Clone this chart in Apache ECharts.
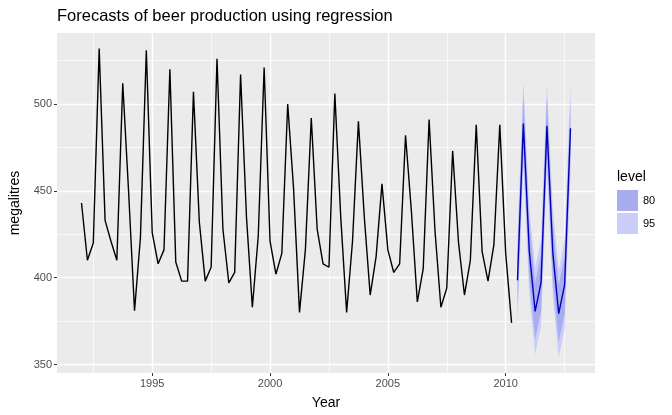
<!DOCTYPE html>
<html>
<head>
<meta charset="utf-8">
<script src="https://cdn.jsdelivr.net/npm/echarts@6/dist/echarts.min.js"></script>
<style>
  html, body { margin: 0; padding: 0; background: #fff; }
  #chart { width: 672px; height: 415px; }
</style>
</head>
<body>
<div id="chart"></div>
<script>
// quarterly beer production, 1992 Q1 .. 2010 Q2
const startYear = 1992;
const beer = [
  443, 410, 420, 532, 433, 421, 410, 512, 449, 381, 423, 531,
  426, 408, 416, 520, 409, 398, 398, 507, 432, 398, 406, 526,
  428, 397, 403, 517, 435, 383, 424, 521, 421, 402, 414, 500,
  451, 380, 416, 492, 428, 408, 406, 506, 435, 380, 421, 490,
  435, 390, 412, 454, 416, 403, 408, 482, 438, 386, 405, 491,
  427, 383, 394, 473, 420, 390, 410, 488, 415, 398, 419, 488,
  414, 374
];
// forecasts 2010 Q3 .. 2012 Q4
const fcStart = 2010.5;
const fcPoint = [398.5, 488.8, 415.6, 380.6, 397.1, 487.4, 414.3, 379.3, 395.8, 486.0];
const lo80 = [382.4, 472.7, 399.4, 364.4, 380.8, 471.0, 397.9, 362.8, 379.2, 469.4];
const hi80 = [414.6, 504.9, 431.8, 396.8, 413.4, 503.8, 430.7, 395.8, 412.4, 502.6];
const lo95 = [373.7, 464.0, 390.7, 355.6, 372.0, 462.2, 389.0, 353.9, 370.3, 460.4];
const hi95 = [423.3, 513.6, 440.5, 405.6, 422.2, 512.6, 439.6, 404.7, 421.3, 511.6];

const xTicks = [1995, 2000, 2005, 2010];
const xMinor = [1992.5, 1997.5, 2002.5, 2007.5, 2012.5];
const yTicks = [350, 400, 450, 500];
const yMinor = [375, 425, 475, 525];

const col80 = '#a9adef';
const col95 = '#cacef8';

const beerData = beer.map((v, i) => [startYear + i / 4, v]);
const fcX = fcPoint.map((v, i) => fcStart + i / 4);
const fcData = fcPoint.map((v, i) => [fcX[i], v]);

// one polygon per band, drawn from the band arrays through the axes
function bandSeries(name, lo, hi, color, z) {
  return {
    type: 'custom', name: name, z: z, silent: true,
    itemStyle: { color: color },
    data: lo.map((v, i) => [fcX[i], v, hi[i]]),
    encode: { x: 0, y: [1, 2] },
    renderItem: function (params, api) {
      if (params.dataIndex !== 0) return null;
      const pts = [];
      for (let i = 0; i < lo.length; i++) pts.push(api.coord([fcX[i], hi[i]]));
      for (let i = lo.length - 1; i >= 0; i--) pts.push(api.coord([fcX[i], lo[i]]));
      return {
        type: 'polygon',
        shape: { points: pts },
        style: { fill: color, stroke: null }
      };
    }
  };
}

const chart = echarts.init(document.getElementById('chart'));

const gridLines = [];
xMinor.forEach(v => gridLines.push({ xAxis: v, lineStyle: { width: 0.7 } }));
yMinor.forEach(v => gridLines.push({ yAxis: v, lineStyle: { width: 0.7 } }));
xTicks.forEach(v => gridLines.push({ xAxis: v, lineStyle: { width: 1.4 } }));
yTicks.forEach(v => gridLines.push({ yAxis: v, lineStyle: { width: 1.4 } }));

const axisText = {
  color: '#4d4d4d', fontSize: 11, fontFamily: 'Liberation Sans',
  formatter: v => String(v)
};

const option = {
  animation: false,
  textStyle: { fontFamily: 'Liberation Sans' },
  title: {
    text: 'Forecasts of beer production using regression',
    left: 52, top: 3,
    textStyle: { fontSize: 16.5, fontWeight: 'normal', color: '#000' }
  },
  grid: {
    left: 57, right: 77, top: 33, bottom: 42,
    outerBoundsMode: 'none', containLabel: false,
    show: true, backgroundColor: '#ebebeb', borderWidth: 0
  },
  legend: {
    data: [
      { name: '80', itemStyle: { color: col80 } },
      { name: '95', itemStyle: { color: col95 } }
    ],
    orient: 'vertical',
    left: 617, top: 190,
    padding: 0,
    icon: 'rect',
    itemWidth: 21, itemHeight: 21, itemGap: 2,
    textStyle: { fontSize: 11, color: '#000', padding: [0, 0, 0, 0] },
    selectedMode: false
  },
  graphic: [{
    type: 'text', left: 617, top: 170,
    style: { text: 'level', fontSize: 14, fill: '#000', fontFamily: 'Liberation Sans' }
  }],
  xAxis: {
    type: 'value', min: 1990.96, max: 2013.79,
    name: 'Year', nameLocation: 'middle', nameGap: 23,
    nameTextStyle: { fontSize: 14, color: '#000' },
    splitLine: { show: false },
    axisLine: { show: false },
    axisTick: { show: true, customValues: xTicks, length: 3, lineStyle: { color: '#333' } },
    axisLabel: { customValues: xTicks, margin: 5, ...axisText }
  },
  yAxis: {
    type: 'value', min: 345.1, max: 540.9,
    name: 'megalitres', nameLocation: 'middle', nameGap: 35,
    nameTextStyle: { fontSize: 14, color: '#000' },
    splitLine: { show: false },
    axisLine: { show: false },
    axisTick: { show: true, customValues: yTicks, length: 3, lineStyle: { color: '#333' } },
    axisLabel: { customValues: yTicks, margin: 5, ...axisText }
  },
  series: [
    {
      type: 'line', name: 'grid', data: [], z: 1, silent: true,
      markLine: {
        z: 1, silent: true, symbol: 'none', label: { show: false },
        lineStyle: { color: '#fff', type: 'solid' },
        animation: false,
        data: gridLines
      }
    },
    bandSeries('95', lo95, hi95, col95, 2),
    bandSeries('80', lo80, hi80, col80, 3),
    {
      type: 'line', name: 'forecast', data: fcData,
      showSymbol: false, lineStyle: { color: '#0000bb', width: 1.4 }, z: 4
    },
    {
      type: 'line', name: 'beer', data: beerData,
      showSymbol: false, lineStyle: { color: '#000', width: 1.4 }, z: 4
    }
  ]
};
chart.setOption(option);
</script>
</body>
</html>
